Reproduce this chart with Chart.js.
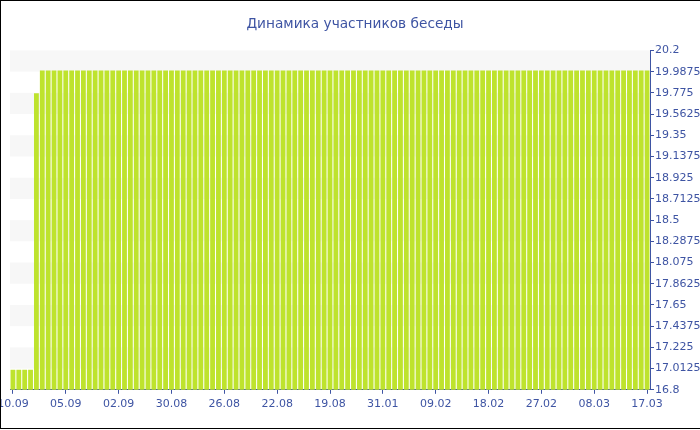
<!DOCTYPE html>
<html>
<head>
<meta charset="utf-8">
<script src="https://cdn.jsdelivr.net/npm/chart.js@4/dist/chart.umd.min.js"></script>
<style>
  html, body { margin: 0; padding: 0; background: #fff; overflow: hidden; }
  #frame {
    position: absolute; left: 0; top: 0;
    width: 699px; height: 427px;
    border-left: 1px solid #000; border-top: 1px solid #000; border-bottom: 1px solid #000;
  }
  #chart { display: block; }
</style>
</head>
<body>
<div id="frame"><canvas id="chart" width="699" height="427"></canvas></div>
<script>
// labels shown under the x axis, one for every 9th bar
const tickLabels = ["10.09", "05.09", "02.09", "30.08", "26.08", "22.08", "19.08",
                    "31.01", "09.02", "18.02", "27.02", "08.03", "17.03"];
const labelStep = 9;

// members count per bar (109 bars)
const members = [
    17, 17, 17, 17, 19.77, 20, 20, 20,
    20, 20, 20, 20, 20, 20, 20, 20,
    20, 20, 20, 20, 20, 20, 20, 20,
    20, 20, 20, 20, 20, 20, 20, 20,
    20, 20, 20, 20, 20, 20, 20, 20,
    20, 20, 20, 20, 20, 20, 20, 20,
    20, 20, 20, 20, 20, 20, 20, 20,
    20, 20, 20, 20, 20, 20, 20, 20,
    20, 20, 20, 20, 20, 20, 20, 20,
    20, 20, 20, 20, 20, 20, 20, 20,
    20, 20, 20, 20, 20, 20, 20, 20,
    20, 20, 20, 20, 20, 20, 20, 20,
    20, 20, 20, 20, 20, 20, 20, 20,
    20, 20, 20, 20, 20
];

const yTicks = [16.8, 17.0125, 17.225, 17.4375, 17.65, 17.8625, 18.075, 18.2875, 18.5,
                18.7125, 18.925, 19.1375, 19.35, 19.5625, 19.775, 19.9875, 20.2];

const categories = members.map((_, i) => i % labelStep === 0 ? (tickLabels[i / labelStep] || '') : '');

const BLUE = '#3e54a3';
const FONT = "'DejaVu Sans', Verdana, sans-serif";

// alternating horizontal bands behind the bars
const bandsPlugin = {
    id: 'bands',
    beforeDatasetsDraw(chart) {
        const { ctx, chartArea } = chart;
        const y = chart.scales.y;
        ctx.save();
        ctx.fillStyle = '#f7f7f7';
        for (let k = yTicks.length - 1; k > 0; k--) {
            if ((yTicks.length - 1 - k) % 2 !== 0) continue;
            const top = y.getPixelForValue(yTicks[k]);
            const bottom = y.getPixelForValue(yTicks[k - 1]);
            ctx.fillRect(chartArea.left, top, chartArea.right - chartArea.left, bottom - top);
        }
        ctx.restore();
    }
};

new Chart(document.getElementById('chart'), {
    type: 'bar',
    data: {
        labels: categories,
        datasets: [{
            data: members,
            backgroundColor: '#bee32d',
            borderWidth: 0,
            barPercentage: 0.82,
            categoryPercentage: 1
        }]
    },
    options: {
        responsive: false,
        animation: false,
        layout: { padding: { left: 9, right: 0, top: 0, bottom: 13 } },
        plugins: {
            legend: { display: false },
            tooltip: { enabled: false },
            title: {
                display: true,
                text: 'Динамика участников беседы',
                color: BLUE,
                font: { family: FONT, size: 13.7, weight: 'normal' },
                padding: { top: 15, bottom: 18 }
            }
        },
        scales: {
            x: {
                offset: true,
                grid: { offset: false, drawOnChartArea: false, drawTicks: true, tickLength: 4, color: BLUE },
                border: { color: BLUE, width: 1 },
                ticks: {
                    autoSkip: false,
                    maxRotation: 0,
                    padding: 4,
                    color: BLUE,
                    font: { family: FONT, size: 11 },
                    callback: function (v, i) { return categories[i] ? categories[i] : null; }
                },
                afterFit: function (scale) { scale.paddingLeft = 0; scale.paddingRight = 0; }
            },
            y: {
                position: 'right',
                min: 16.8,
                max: 20.2,
                grid: { drawOnChartArea: false, drawTicks: true, tickLength: 4, color: BLUE },
                border: { color: BLUE, width: 1 },
                afterBuildTicks: function (scale) { scale.ticks = yTicks.map(v => ({ value: v })); },
                ticks: {
                    padding: 1,
                    color: BLUE,
                    font: { family: FONT, size: 11 },
                    callback: function (v) { return String(+v.toFixed(4)); }
                },
                afterFit: function (scale) { scale.width = 50; }
            }
        }
    },
    plugins: [bandsPlugin]
});
</script>
</body>
</html>
